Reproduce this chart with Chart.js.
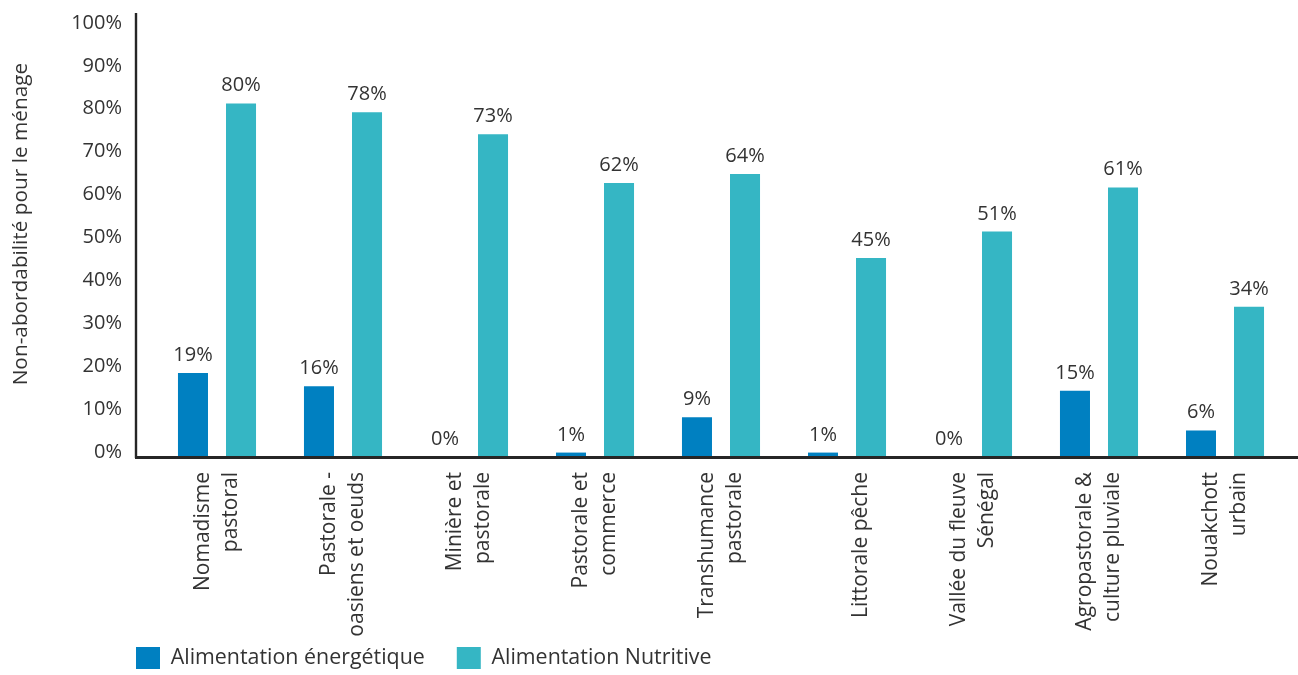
<!DOCTYPE html>
<html>
<head>
<meta charset="utf-8">
<script src="https://cdn.jsdelivr.net/npm/chart.js@4.4.1/dist/chart.umd.min.js"></script>
<style>
  html, body { margin: 0; padding: 0; background: #ffffff; }
  #wrap { width: 1298px; height: 675px; }
</style>
</head>
<body>
<div id="wrap"><canvas id="chart" width="1298" height="675"></canvas></div>
<script>
// Zones de moyens d'existence (libellés sur deux lignes)
const categories = [
  ["Nomadisme", "pastoral"],
  ["Pastorale -", "oasiens et oeuds"],
  ["Minière et", "pastorale"],
  ["Pastorale et", "commerce"],
  ["Transhumance", "pastorale"],
  ["Littorale pêche"],
  ["Vallée du fleuve", "Sénégal"],
  ["Agropastorale &", "culture pluviale"],
  ["Nouakchott", "urbain"]
];

// Part des ménages ne pouvant pas se payer le régime (%)
const energetique = [19, 16, 0, 1, 9, 1, 0, 15, 6];
const nutritive   = [80, 78, 73, 62, 64, 45, 51, 61, 34];

const seriesNames = ["Alimentation énergétique", "Alimentation Nutritive"];
const yTicks = [0, 10, 20, 30, 40, 50, 60, 70, 80, 90, 100];
const yTitle = "Non-abordabilité pour le ménage";

const FONT = "'Open Sans', 'Noto Sans', sans-serif";
const TEXT = "#333333";
const AXIS = "#262626";

// Axes en L : trait vertical à gauche et ligne de base épaisse
const axisLines = {
  id: "axisLines",
  afterDatasetsDraw(chart) {
    const { ctx, scales: { y } } = chart;
    const base = y.getPixelForValue(0);
    ctx.save();
    ctx.strokeStyle = AXIS;
    ctx.lineWidth = 2.4;
    ctx.beginPath();
    ctx.moveTo(136, 13);
    ctx.lineTo(136, base + 1);
    ctx.stroke();
    ctx.lineWidth = 3;
    ctx.beginPath();
    ctx.moveTo(135, base + 0.5);
    ctx.lineTo(chart.width, base + 0.5);
    ctx.stroke();
    ctx.restore();
  }
};

// Valeurs affichées au-dessus de chaque barre
const valueLabels = {
  id: "valueLabels",
  afterDatasetsDraw(chart) {
    const { ctx } = chart;
    ctx.save();
    ctx.font = "20px " + FONT;
    ctx.fillStyle = TEXT;
    ctx.textAlign = "center";
    ctx.textBaseline = "alphabetic";
    chart.data.datasets.forEach((ds, di) => {
      const meta = chart.getDatasetMeta(di);
      meta.data.forEach((bar, i) => {
        ctx.fillText(ds.data[i] + "%", bar.x, bar.y - 12);
      });
    });
    ctx.restore();
  }
};

// Légende calée sous les libellés, à gauche, avec une hauteur réservée réduite ;
// titre de l'axe vertical légèrement remonté
const layoutTweaks = {
  id: "layoutTweaks",
  beforeLayout(chart) {
    const lg = chart.legend;
    if (lg && !lg.__compactFit) {
      const fit = lg.fit;
      lg.fit = function () { fit.call(this); this.height = 18; };
      lg.__compactFit = true;
    }
  },
  afterLayout(chart) {
    const lg = chart.legend;
    if (lg) {
      lg.left = 104;
      lg.top = 615;
      lg.bottom = chart.height;
      lg.height = lg.bottom - lg.top;
    }
    const yl = chart.scales.yl;
    if (yl) {
      yl.top -= 12;
      yl.bottom -= 12;
    }
  }
};

new Chart(document.getElementById("chart"), {
  type: "bar",
  data: {
    labels: categories,
    datasets: [
      {
        label: seriesNames[0],
        data: energetique,
        backgroundColor: "#0080c1",
        borderWidth: 0,
        categoryPercentage: 0.7625,
        barPercentage: 0.625
      },
      {
        label: seriesNames[1],
        data: nutritive,
        backgroundColor: "#35b6c4",
        borderWidth: 0,
        categoryPercentage: 0.7625,
        barPercentage: 0.625
      }
    ]
  },
  options: {
    responsive: false,
    animation: false,
    devicePixelRatio: 1,
    layout: { padding: { top: 15, left: 0, right: 10, bottom: 0 } },
    plugins: {
      tooltip: { enabled: false },
      legend: {
        position: "bottom",
        align: "start",
        labels: {
          boxWidth: 24,
          boxHeight: 22,
          padding: 32,
          color: TEXT,
          font: { family: FONT, size: 21.4 }
        }
      }
    },
    scales: {
      x: {
        type: "category",
        grid: { display: false, drawTicks: false },
        border: { display: false },
        ticks: {
          autoSkip: false,
          minRotation: 90,
          maxRotation: 90,
          padding: 15,
          labelOffset: -13.5,
          color: TEXT,
          font: { family: FONT, size: 21, lineHeight: 1.3 },
          // une ligne seule est placée en seconde position
          callback(value) {
            const lines = this.getLabelForValue(value);
            return Array.isArray(lines) && lines.length === 1 ? ["", lines[0]] : lines;
          }
        },
        afterFit(scale) { scale.height = 200; }
      },
      y: {
        type: "linear",
        display: false,
        min: 0,
        max: 100
      },
      yl: {
        type: "linear",
        position: "left",
        min: -1.17,
        max: 101.86,
        grid: { display: false, drawTicks: false },
        border: { display: false },
        afterBuildTicks(scale) {
          scale.ticks = yTicks.map(v => ({ value: v }));
        },
        ticks: {
          padding: 32,
          color: TEXT,
          font: { family: FONT, size: 20 },
          callback: v => v + "%"
        },
        title: {
          display: true,
          text: yTitle,
          color: TEXT,
          font: { family: FONT, size: 20.8 },
          padding: { top: 9, bottom: 0 }
        },
        afterFit(scale) {
          scale.width = 154;
          scale.paddingTop = 10;
          scale.paddingBottom = 10;
        }
      }
    }
  },
  plugins: [axisLines, valueLabels, layoutTweaks]
});
</script>
</body>
</html>
